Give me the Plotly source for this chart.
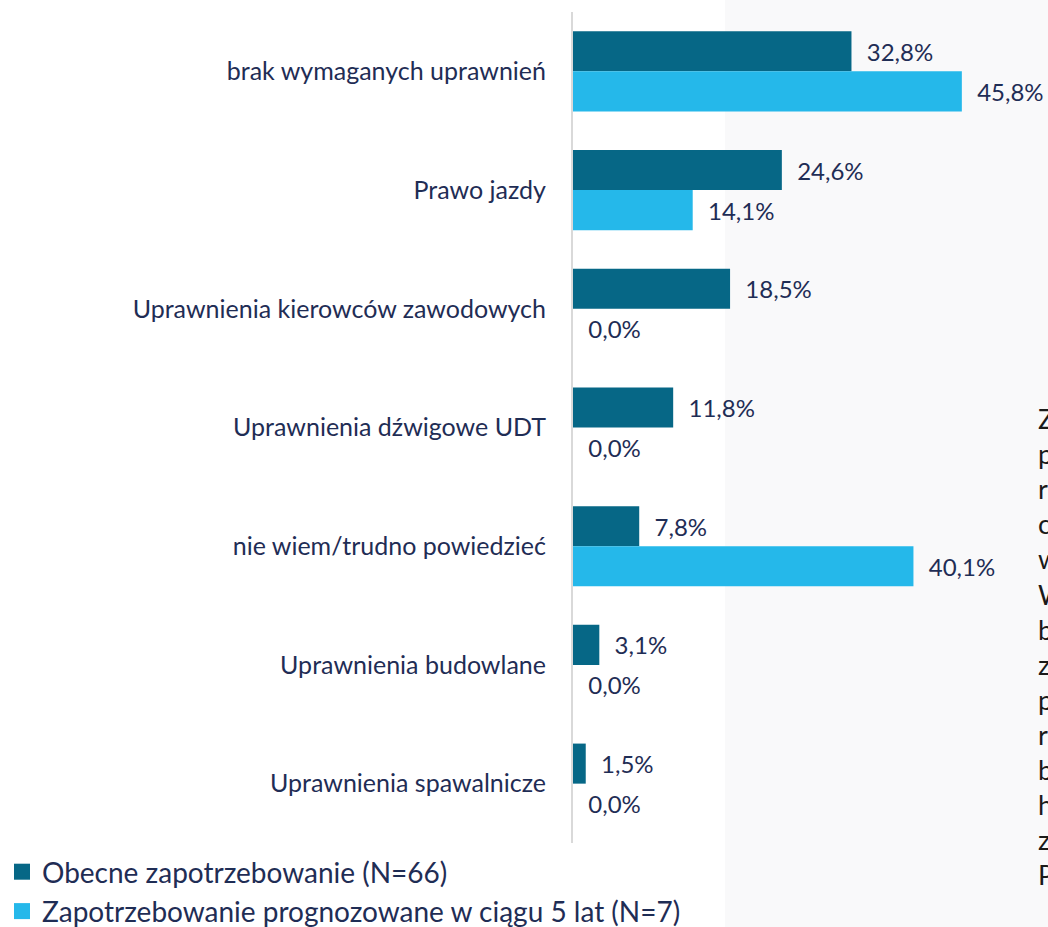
import plotly.graph_objects as go

categories = [
    "brak wymaganych uprawnień",
    "Prawo jazdy",
    "Uprawnienia kierowców zawodowych",
    "Uprawnienia dźwigowe UDT",
    "nie wiem/trudno powiedzieć",
    "Uprawnienia budowlane",
    "Uprawnienia spawalnicze",
]
obecne = [32.8, 24.6, 18.5, 11.8, 7.8, 3.1, 1.5]
prognoza = [45.8, 14.1, 0.0, 0.0, 40.1, 0.0, 0.0]
series_names = ["Obecne zapotrzebowanie (N=66)",
                "Zapotrzebowanie prognozowane w ciągu 5 lat (N=7)"]
side_letters = ["Z", "p", "r", "c", "w", "W", "b", "z", "p", "r", "b", "h", "z", "P"]

DARK = "#066786"
LIGHT = "#25b8ea"
TXT = "#1f2d55"
FONT = "Lato"
PAD = "\u00a0\u00a0"

W, H = 1048, 927
ML, MR, MT, MB = 573, 0, 12, 84
pw = W - ML - MR
ph = H - MT - MB

fig = go.Figure()
for name, vals, col in [(series_names[0], obecne, DARK), (series_names[1], prognoza, LIGHT)]:
    fig.add_trace(go.Bar(
        y=categories, x=vals, name=name, orientation="h",
        marker=dict(color=col, line=dict(width=0)),
        text=vals, texttemplate=PAD + "%{x:.1f}%", textposition="outside",
        textfont=dict(family=FONT, size=24, color=TXT),
        cliponaxis=False, constraintext="none", showlegend=False,
        legendgroup=name,
    ))
# legend entries with larger square swatches
for name, col in [(series_names[0], DARK), (series_names[1], LIGHT)]:
    fig.add_trace(go.Scatter(
        x=[None], y=[None], mode="markers", name=name, legendgroup=name,
        marker=dict(symbol="square", size=16, color=col),
        hoverinfo="skip",
    ))

# light panel on the right side of the slide
fig.add_shape(type="rect", xref="paper", yref="paper",
              x0=(725 - ML) / pw, x1=1.05, y0=-0.2, y1=1.1,
              fillcolor="#f9f9fa", line=dict(width=0), layer="below")

fig.add_annotation(
    xref="paper", yref="paper",
    x=(1036 - ML) / pw, y=(H - MB - 646) / ph,
    xanchor="left", yanchor="middle", align="left",
    text="<br>".join(side_letters), showarrow=False,
    font=dict(family=FONT, size=27, color="#1a1a1a"),
)

fig.update_layout(
    width=W, height=H,
    margin=dict(l=ML, r=MR, t=MT, b=MB, pad=0, autoexpand=False),
    paper_bgcolor="white", plot_bgcolor="rgba(0,0,0,0)",
    barmode="group", bargap=0.325, bargroupgap=0,
    separators=", ",
    showlegend=True,
    legend=dict(
        x=(2 - ML) / pw, y=(H - MB - 847) / ph,
        xanchor="left", yanchor="top",
        font=dict(family=FONT, size=28, color=TXT),
        bgcolor="rgba(0,0,0,0)", tracegroupgap=0, itemsizing="trace",
    ),
    xaxis=dict(range=[0, pw / 8.49], showgrid=False, zeroline=False,
               showticklabels=False, showline=False, fixedrange=True),
    yaxis=dict(autorange="reversed", showgrid=False, zeroline=False,
               showline=True, linecolor="#d9d9d9", linewidth=2,
               ticks="", ticklabelstandoff=20,
               tickfont=dict(family=FONT, size=25, color=TXT)),
)

fig.write_html("out.html", config={"displayModeBar": False},
               post_script="document.body.style.margin='0';")
